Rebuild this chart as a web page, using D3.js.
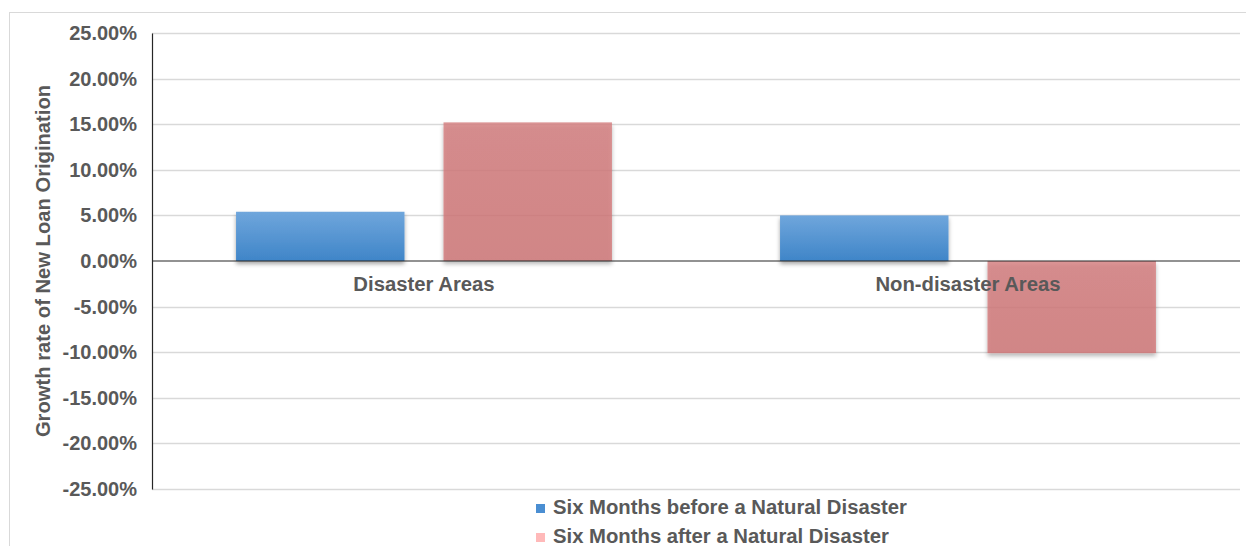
<!DOCTYPE html>
<html>
<head>
<meta charset="utf-8">
<script src="https://cdn.jsdelivr.net/npm/d3@7/dist/d3.min.js"></script>
<style>
  html, body { margin: 0; padding: 0; background: #ffffff; }
  svg { display: block; }
  text { font-family: "Liberation Sans", Arial, sans-serif; font-weight: bold; fill: #595959; }
</style>
</head>
<body>
<svg id="chart" width="1246" height="546"></svg>
<script>
// Categories, series and values (growth rate, %)
const categories = ["Disaster Areas", "Non-disaster Areas"];
const seriesNames = ["Six Months before a Natural Disaster", "Six Months after a Natural Disaster"];
const beforeValues = [5.4, 5.0];
const afterValues = [15.2, -10.1];
const yTicks = [25, 20, 15, 10, 5, 0, -5, -10, -15, -20, -25];
const yTitle = "Growth rate of New Loan Origination";

const rows = categories.map((c, i) => ({ category: c, values: [beforeValues[i], afterValues[i]] }));

const svg = d3.select("#chart");
const W = 1246, H = 546;
const plot = { left: 152, right: 1240, top: 33, bottom: 489 };

// Outer chart frame
svg.append("rect")
  .attr("x", 9.5).attr("y", 12.5)
  .attr("width", W + 10).attr("height", H + 10)
  .attr("fill", "#ffffff").attr("stroke", "#d9d9d9").attr("stroke-width", 1);

const defs = svg.append("defs");
const blueGrad = defs.append("linearGradient").attr("id", "blueGrad")
  .attr("x1", 0).attr("y1", 0).attr("x2", 0).attr("y2", 1);
blueGrad.append("stop").attr("offset", "0%").attr("stop-color", "#6fa6dc");
blueGrad.append("stop").attr("offset", "100%").attr("stop-color", "#3f85c8");
const redGrad = defs.append("linearGradient").attr("id", "redGrad")
  .attr("x1", 0).attr("y1", 0).attr("x2", 0).attr("y2", 1);
redGrad.append("stop").attr("offset", "0%").attr("stop-color", "#d47c7d");
redGrad.append("stop").attr("offset", "100%").attr("stop-color", "#cf7475");
const shadow = defs.append("filter").attr("id", "barShadow")
  .attr("x", "-10%").attr("y", "-10%").attr("width", "120%").attr("height", "130%");
shadow.append("feDropShadow").attr("dx", 0).attr("dy", 3).attr("stdDeviation", 2.2)
  .attr("flood-color", "#000000").attr("flood-opacity", 0.35);

const y = d3.scaleLinear().domain([-25, 25]).range([plot.bottom, plot.top]);
const x0 = d3.scaleBand().domain(categories).range([plot.left, plot.right]).paddingInner(0.309).paddingOuter(0.1545);
const x1 = d3.scaleBand().domain([0, 1]).range([0, x0.bandwidth()]).paddingInner(0.188);

// Gridlines
svg.append("g")
  .selectAll("line").data(yTicks.filter(t => t !== 0)).join("line")
  .attr("x1", plot.left).attr("x2", plot.right)
  .attr("y1", d => Math.round(y(d)) + 0.5).attr("y2", d => Math.round(y(d)) + 0.5)
  .attr("stroke", "#d9d9d9").attr("stroke-width", 1.3);

// Y axis with percentage labels (plain hyphen for negatives)
const yAxis = d3.axisLeft(y).tickValues(yTicks).tickSize(0).tickPadding(15)
  .tickFormat(d => d.toFixed(2) + "%");
const yG = svg.append("g").attr("transform", `translate(${plot.left},0)`).call(yAxis);
yG.select(".domain").attr("stroke", "#262626").attr("stroke-width", 1.2);
yG.selectAll("text").attr("font-size", 20).attr("fill", "#595959")
  .style("font-family", "'Liberation Sans', Arial, sans-serif").style("font-weight", "bold");

// Bars
const colors = ["url(#blueGrad)", "url(#redGrad)"];
const opac = [1, 0.8];
const groups = svg.append("g").selectAll("g").data(rows).join("g")
  .attr("transform", d => `translate(${x0(d.category)},0)`);
groups.selectAll("rect").data(d => d.values.map((v, i) => ({ v, i }))).join("rect")
  .attr("x", d => x1(d.i))
  .attr("width", x1.bandwidth())
  .attr("y", d => y(Math.max(0, d.v)))
  .attr("height", d => Math.abs(y(d.v) - y(0)))
  .attr("fill", d => colors[d.i])
  .attr("fill-opacity", d => opac[d.i])
  .attr("filter", "url(#barShadow)");

// Zero baseline
svg.append("line")
  .attr("x1", plot.left).attr("x2", plot.right)
  .attr("y1", y(0)).attr("y2", y(0))
  .attr("stroke", "#262626").attr("stroke-width", 1.2);

// Category labels
svg.append("g").selectAll("text").data(categories).join("text")
  .attr("x", d => x0(d) + x0.bandwidth() / 2)
  .attr("y", y(0) + 30)
  .attr("text-anchor", "middle")
  .attr("font-size", 20.3)
  .text(d => d);

// Y axis title
svg.append("text")
  .attr("transform", `translate(50,${(plot.top + plot.bottom) / 2}) rotate(-90)`)
  .attr("text-anchor", "middle")
  .attr("font-size", 20.2)
  .text(yTitle);

// Legend
const legendColors = ["#4a8ed2", "#ffb9b9"];
const legend = svg.append("g").selectAll("g").data(seriesNames).join("g")
  .attr("transform", (d, i) => `translate(536,${504 + i * 29})`);
legend.append("rect").attr("width", 9).attr("height", 9)
  .attr("fill", (d, i) => legendColors[i]);
legend.append("text").attr("x", 17).attr("y", 10)
  .attr("font-size", 20.3).text(d => d);
</script>
</body>
</html>
